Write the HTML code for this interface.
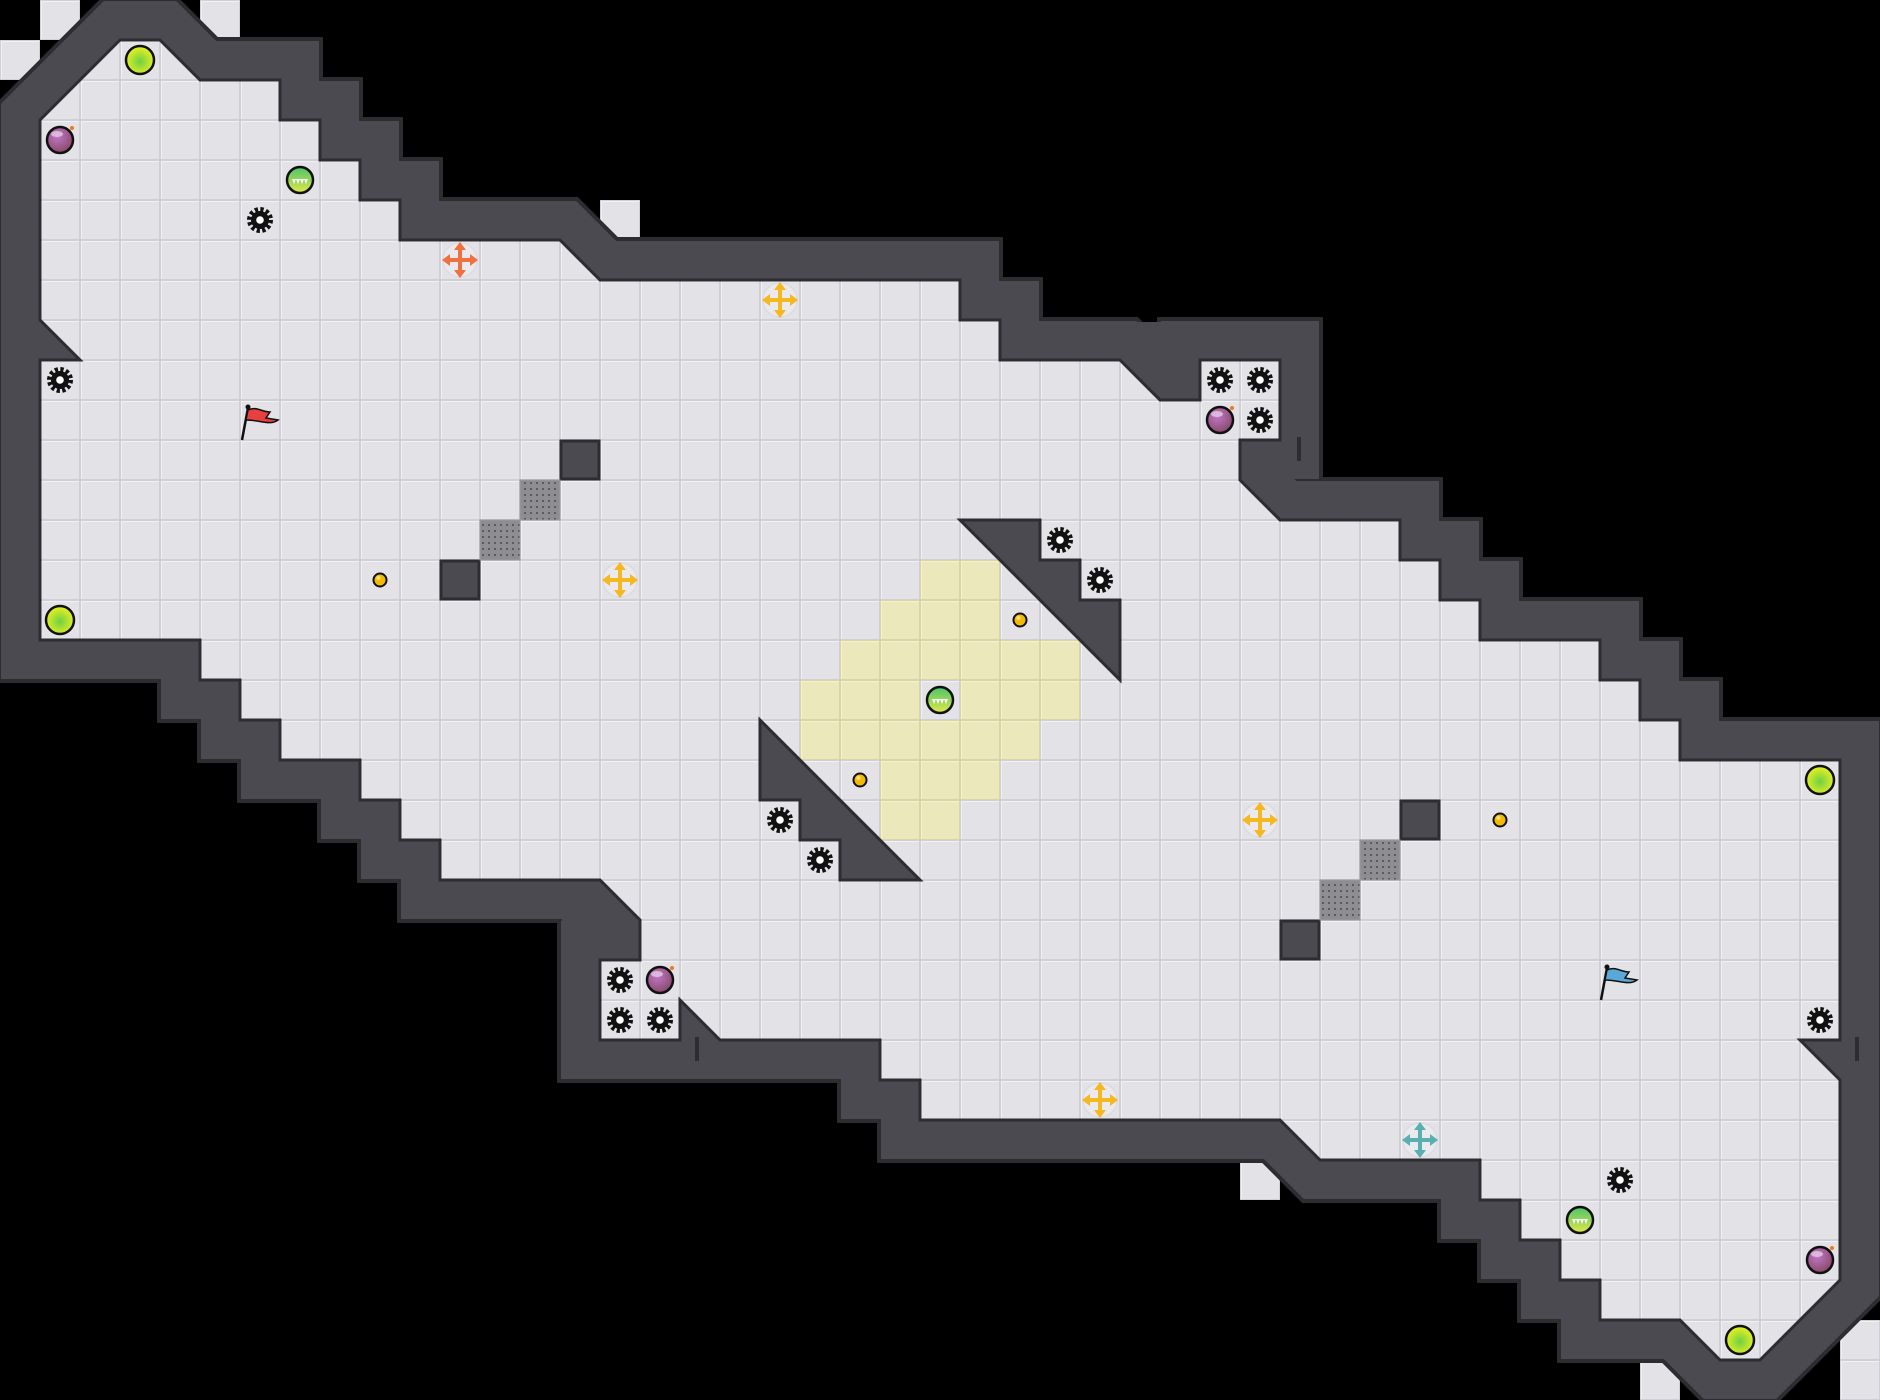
<!DOCTYPE html>
<html><head><meta charset="utf-8"><style>html,body{margin:0;padding:0;background:#000;}svg{display:block}</style></head>
<body>
<svg xmlns="http://www.w3.org/2000/svg" width="1880" height="1400" viewBox="0 0 1880 1400">
<defs>
<pattern id="g" width="40" height="40" patternUnits="userSpaceOnUse">
<rect width="40" height="40" fill="#cfcfd5"/>
<rect x="1" y="1" width="38" height="38" fill="#f2f2f4"/>
<rect x="2" y="2" width="37" height="37" fill="#e2e2e7"/>
</pattern>
<pattern id="y" width="40" height="40" patternUnits="userSpaceOnUse">
<rect width="40" height="40" fill="#d8d6a6"/>
<rect x="1" y="1" width="38" height="38" fill="#f4f2d0"/>
<rect x="2" y="2" width="37" height="37" fill="#ebe9bb"/>
</pattern>
<pattern id="d" width="6" height="6" patternUnits="userSpaceOnUse">
<rect width="6" height="6" fill="#8e8e92"/><rect x="2" y="2" width="2" height="2" fill="#5c5c60"/>
</pattern>
<radialGradient id="yo" cx="50%" cy="55%" r="55%"><stop offset="0" stop-color="#6fcf4a"/><stop offset="1" stop-color="#eef21a"/></radialGradient>
<radialGradient id="bo" cx="40%" cy="35%" r="65%"><stop offset="0" stop-color="#c078c8"/><stop offset="1" stop-color="#8a4a6a"/></radialGradient>
<linearGradient id="go" x1="0" y1="0" x2="0" y2="1"><stop offset="0" stop-color="#4cc46a"/><stop offset="1" stop-color="#dfe84a"/></linearGradient>
<polygon id="fp" points="40,120 120,40 160,40 200,80 280,80 280,120 320,120 320,160 360,160 360,200 400,200 400,240 560,240 600,280 960,280 960,320 1000,320 1000,360 1120,360 1160,400 1200,400 1200,360 1280,360 1280,440 1240,440 1240,480 1280,520 1400,520 1400,560 1440,560 1440,600 1480,600 1480,640 1600,640 1600,680 1640,680 1640,720 1680,720 1680,760 1840,760 1840,1040 1800,1040 1840,1080 1840,1280 1760,1360 1720,1360 1680,1320 1600,1320 1600,1280 1560,1280 1560,1240 1520,1240 1520,1200 1480,1200 1480,1160 1320,1160 1280,1120 920,1120 920,1080 880,1080 880,1040 720,1040 680,1000 680,1040 600,1040 600,960 640,960 640,920 600,880 440,880 440,840 400,840 400,800 360,800 360,760 280,760 280,720 240,720 240,680 200,680 200,640 40,640 40,360 80,360 40,320"/>
<g id="gear"><circle r="10" fill="none" stroke="#111" stroke-width="6" stroke-dasharray="3 2.24"/><circle r="9" fill="#111"/><circle r="3.8" fill="#fff"/></g>
<g id="yorb"><circle r="14" fill="url(#yo)" stroke="#111" stroke-width="2.5"/></g>
<g id="bomb"><circle r="13" fill="url(#bo)" stroke="#111" stroke-width="2.5"/><ellipse cx="-3" cy="-6" rx="6" ry="3" fill="#fff" opacity=".5"/><circle cx="12" cy="-12" r="2" fill="#e87a20"/></g>
<g id="gorb"><circle r="13" fill="url(#go)" stroke="#111" stroke-width="2.5"/><path d="M-8,-1 h16 l-2,5 l-2,-5 l-2,5 l-2,-5 l-2,5 l-2,-5 l-2,5 z" fill="#fff"/></g>
<g id="coin"><circle r="6.5" fill="#f7b900" stroke="#111" stroke-width="2"/><circle cx="-1.5" cy="-2" r="2" fill="#ffe27a"/></g>
<g id="cross"><circle r="17" fill="#e9e9ee" stroke="#d8d8de"/><path d="M0,-18 L6,-10 H2 V-2 H10 V-6 L18,0 L10,6 V2 H2 V10 H6 L0,18 L-6,10 H-2 V2 H-10 V6 L-18,0 L-10,-6 V-2 H-2 V-10 H-6 Z"/></g>
</defs>
<rect width="1880" height="1400" fill="#000"/>
<g fill="url(#g)">
<rect x="40" y="0" width="40" height="40"/><rect x="0" y="40" width="40" height="40"/><rect x="200" y="0" width="40" height="40"/>
<rect x="600" y="200" width="40" height="40"/><rect x="1240" y="1160" width="40" height="40"/>
<rect x="1640" y="1360" width="40" height="40"/><rect x="1840" y="1320" width="40" height="40"/><rect x="1840" y="1360" width="40" height="40"/>
</g>
<use href="#fp" fill="none" stroke="#2c2c31" stroke-width="86" stroke-linejoin="miter" stroke-miterlimit="3"/>
<use href="#fp" fill="none" stroke="#4a4a50" stroke-width="78" stroke-linejoin="miter" stroke-miterlimit="3"/>
<rect x="1120" y="322" width="82" height="36" fill="#4a4a50"/>
<rect x="562" y="916" width="40" height="40" fill="#4a4a50"/>
<use href="#fp" fill="url(#g)" stroke="#2c2c31" stroke-width="3"/>
<g fill="url(#y)">
<rect x="920" y="560" width="80" height="40"/>
<rect x="880" y="600" width="120" height="40"/>
<rect x="840" y="640" width="240" height="40"/>
<rect x="800" y="680" width="120" height="40"/><rect x="960" y="680" width="120" height="40"/>
<rect x="800" y="720" width="240" height="40"/>
<rect x="880" y="760" width="120" height="40"/>
<rect x="880" y="800" width="80" height="40"/>
</g>
<g fill="#4a4a50" stroke="#2c2c31" stroke-width="3">
<rect x="561" y="441" width="38" height="38"/><rect x="441" y="561" width="38" height="38"/>
<rect x="1401" y="801" width="38" height="38"/><rect x="1281" y="921" width="38" height="38"/>
<polygon points="960,520 1040,520 1040,560 1080,560 1080,600 1120,600 1120,680"/>
<polygon points="760,720 760,800 800,800 800,840 840,840 840,880 920,880"/>
</g>
<g fill="url(#d)" stroke="#9a9a9e" stroke-width="1">
<rect x="520" y="480" width="40" height="40"/><rect x="480" y="520" width="40" height="40"/>
<rect x="1360" y="840" width="40" height="40"/><rect x="1320" y="880" width="40" height="40"/>
</g>
<rect x="1297" y="437" width="4" height="24" fill="#2c2c31"/>
<rect x="695" y="1037" width="4" height="24" fill="#2c2c31"/>
<rect x="1855" y="1037" width="4" height="24" fill="#2c2c31"/>
<use href="#yorb" x="140" y="60"/><use href="#yorb" x="60" y="620"/><use href="#yorb" x="1820" y="780"/><use href="#yorb" x="1740" y="1340"/>
<use href="#bomb" x="60" y="140"/><use href="#bomb" x="1220" y="420"/><use href="#bomb" x="660" y="980"/><use href="#bomb" x="1820" y="1260"/>
<use href="#gorb" x="300" y="180"/><use href="#gorb" x="940" y="700"/><use href="#gorb" x="1580" y="1220"/>
<use href="#gear" x="260" y="220"/><use href="#gear" x="60" y="380"/><use href="#gear" x="1220" y="380"/><use href="#gear" x="1260" y="380"/><use href="#gear" x="1260" y="420"/>
<use href="#gear" x="1060" y="540"/><use href="#gear" x="1100" y="580"/><use href="#gear" x="780" y="820"/><use href="#gear" x="820" y="860"/>
<use href="#gear" x="620" y="980"/><use href="#gear" x="620" y="1020"/><use href="#gear" x="660" y="1020"/><use href="#gear" x="1820" y="1020"/><use href="#gear" x="1620" y="1180"/>
<use href="#coin" x="380" y="580"/><use href="#coin" x="1020" y="620"/><use href="#coin" x="860" y="780"/><use href="#coin" x="1500" y="820"/>
<use href="#cross" x="460" y="260" fill="#f07040"/><use href="#cross" x="780" y="300" fill="#f5b820"/><use href="#cross" x="620" y="580" fill="#f5b820"/>
<use href="#cross" x="1260" y="820" fill="#f5b820"/><use href="#cross" x="1100" y="1100" fill="#f5b820"/><use href="#cross" x="1420" y="1140" fill="#5ab0b0"/>
<g transform="translate(242,404)"><line x1="0" y1="36" x2="6" y2="4" stroke="#111" stroke-width="2.5"/><circle cx="6" cy="3" r="2.5" fill="#111"/><path d="M6,6 C14,2 20,8 28,8 L24,14 L36,16 C28,22 18,16 4,16 Z" fill="#e84040" stroke="#111" stroke-width="1.5"/></g>
<g transform="translate(1601,964)"><line x1="0" y1="36" x2="6" y2="4" stroke="#111" stroke-width="2.5"/><circle cx="6" cy="3" r="2.5" fill="#111"/><path d="M6,6 C14,2 20,8 28,8 L24,14 L36,16 C28,22 18,16 4,16 Z" fill="#5aa8d8" stroke="#111" stroke-width="1.5"/></g>
</svg>
</body></html>
